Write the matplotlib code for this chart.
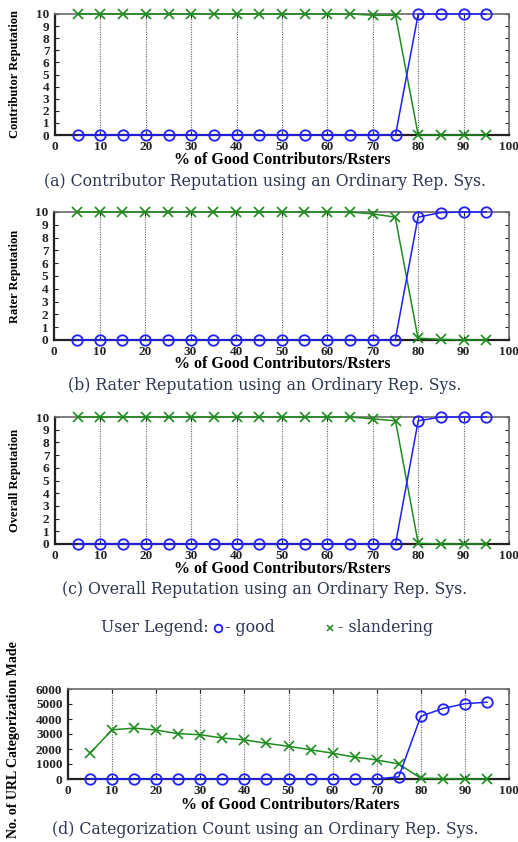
import matplotlib
matplotlib.use("Agg")
import matplotlib.pyplot as plt
from matplotlib.lines import Line2D

# Percentage of good contributors/raters in the population
pct_good = [5, 10, 15, 20, 25, 30, 35, 40, 45, 50, 55, 60, 65, 70, 75, 80, 85, 90, 95]

# (a) contributor reputation
contrib_good = [0, 0, 0, 0, 0, 0, 0, 0, 0, 0, 0, 0, 0, 0, 0, 10, 10, 10, 10]
contrib_sland = [10, 10, 10, 10, 10, 10, 10, 10, 10, 10, 10, 10, 10, 9.9, 9.9, 0, 0, 0, 0]

# (b) rater reputation
rater_good = [0, 0, 0, 0, 0, 0, 0, 0, 0, 0, 0, 0, 0, 0, 0, 9.6, 9.95, 10, 10]
rater_sland = [10, 10, 10, 10, 10, 10, 10, 10, 10, 10, 10, 10, 10, 9.85, 9.6, 0.15, 0.05, 0, 0]

# (c) overall reputation
overall_good = [0, 0, 0, 0, 0, 0, 0, 0, 0, 0, 0, 0, 0, 0, 0, 9.7, 10, 10, 10]
overall_sland = [10, 10, 10, 10, 10, 10, 10, 10, 10, 10, 10, 10, 10, 9.85, 9.7, 0.05, 0, 0, 0]

# (d) number of URL categorizations made
count_good = [0, 0, 0, 0, 0, 0, 0, 0, 0, 0, 0, 0, 0, 0, 150, 4180, 4700, 5020, 5120]
count_sland = [1720, 3280, 3390, 3260, 3020, 2950, 2730, 2610, 2380, 2180, 1950, 1720, 1460, 1270, 1000, 50, 20, 0, 0]

rep_ticks = list(range(0, 11))
count_ticks = [0, 1000, 2000, 3000, 4000, 5000, 6000]
x_ticks = [0, 10, 20, 30, 40, 50, 60, 70, 80, 90, 100]

BLUE = "#1f1fff"
GREEN = "#1e8c1e"
CAP_COLOR = "#2b3550"
TICK_FONT = dict(family="Liberation Serif", weight="bold", size=9.5)
LABEL_FONT = dict(family="Liberation Serif", weight="bold")
CAP_FONT = dict(family="DejaVu Serif", size=11.3, color=CAP_COLOR)

fig = plt.figure(figsize=(5.18, 8.42), dpi=100)
W, H = 518.0, 842.0


def axes_px(left, top, right, bottom):
    return fig.add_axes([left / W, 1 - bottom / H, (right - left) / W, (bottom - top) / H])


def style(ax, yticks, ymax):
    ax.set_xlim(0, 100)
    ax.set_ylim(0, ymax)
    ax.set_xticks(x_ticks)
    ax.set_yticks(yticks)
    ax.set_xticklabels([str(t) for t in x_ticks], **TICK_FONT)
    ax.set_yticklabels([str(t) for t in yticks], **TICK_FONT)
    ax.tick_params(direction="in", length=3, width=0.8, pad=4, top=True, right=True, colors="#222222")
    for side in ("left", "bottom"):
        ax.spines[side].set_color("#222222")
        ax.spines[side].set_linewidth(1.6)
    for side in ("top", "right"):
        ax.spines[side].set_color("#6a6a6a")
        ax.spines[side].set_linewidth(1.2)
    for gx in x_ticks[1:-1]:
        ax.axvline(gx, color="#666666", lw=0.8, ls=(0, (1, 1.2)), zorder=0)


def draw(ax, good, sland):
    ax.plot(pct_good, sland, color=GREEN, lw=1.1, marker="x", ms=6.5, mew=1.2, clip_on=False, zorder=3)
    ax.plot(pct_good, good, color=BLUE, lw=1.1, marker="o", ms=7.5, mfc="none", mew=1.3, clip_on=False, zorder=4)


panels = [
    # (box in px, good, slandering, ylabel, xlabel, caption, xlabel_y, caption_y)
    ((55, 14, 509, 135), contrib_good, contrib_sland, "Contributor Reputation",
     "% of Good Contributors/Rsters", "(a) Contributor Reputation using an Ordinary Rep. Sys.", 160, 181),
    ((54, 212, 509, 340), rater_good, rater_sland, "Rater Reputation",
     "% of Good Contributors/Rsters", "(b) Rater Reputation using an Ordinary Rep. Sys.", 364, 386),
    ((55, 417, 509, 544), overall_good, overall_sland, "Overall Reputation",
     "% of Good Contributors/Rsters", "(c) Overall Reputation using an Ordinary Rep. Sys.", 569, 589),
]

for box, good, sland, ylab, xlab, cap, xl_y, cap_y in panels:
    ax = axes_px(*box)
    style(ax, rep_ticks, 10)
    draw(ax, good, sland)
    fig.text(15 / W, 1 - (box[1] + box[3]) / 2 / H, ylab, rotation=90, ha="center", va="center",
             size=9, **LABEL_FONT)
    fig.text(282 / W, 1 - xl_y / H, xlab, ha="center", va="center", size=11.5, **LABEL_FONT)
    fig.text(265 / W, 1 - cap_y / H, cap, ha="center", va="center", **CAP_FONT)

# Shared legend for the user types
leg_y = 1 - 628 / H
fig.text(101 / W, leg_y, "User Legend:", ha="left", va="center", **CAP_FONT)
fig.add_artist(Line2D([218 / W], [leg_y], transform=fig.transFigure, marker="o", ms=5.5,
                      mfc="none", mec=BLUE, mew=1.3, ls="none"))
fig.text(225 / W, leg_y, "- good", ha="left", va="center", **CAP_FONT)
fig.add_artist(Line2D([330 / W], [leg_y], transform=fig.transFigure, marker="x", ms=5,
                      mec=GREEN, mew=1.1, ls="none"))
fig.text(338 / W, leg_y, "- slandering", ha="left", va="center", **CAP_FONT)

# (d) categorization count
axd = axes_px(68, 689, 509, 779)
style(axd, count_ticks, 6000)
draw(axd, count_good, count_sland)
fig.text(14 / W, 1 - 740 / H, "No. of URL Categorization Made", rotation=90, ha="center", va="center",
         size=10, **LABEL_FONT)
fig.text(290 / W, 1 - 805 / H, "% of Good Contributors/Raters", ha="center", va="center", size=11.5, **LABEL_FONT)
fig.text(265 / W, 1 - 830 / H, "(d) Categorization Count using an Ordinary Rep. Sys.", ha="center", va="center",
         **CAP_FONT)

fig.savefig("out.png", dpi=100)
